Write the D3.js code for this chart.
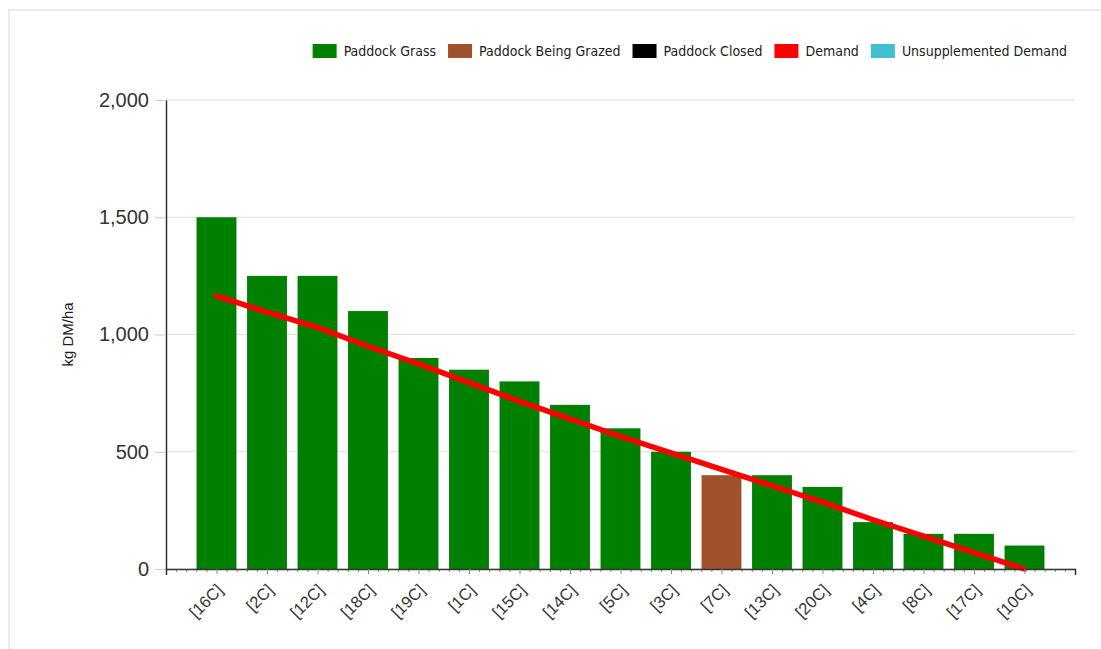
<!DOCTYPE html>
<html>
<head>
<meta charset="utf-8">
<script src="https://cdn.jsdelivr.net/npm/d3@7"></script>
<style>
  body { margin: 0; background: #ffffff; }
  svg { display: block; }
</style>
</head>
<body>
<div id="chart"></div>
<script>
// data
const paddocks = ['[16C]', '[2C]', '[12C]', '[18C]', '[19C]', '[1C]', '[15C]', '[14C]', '[5C]',
  '[3C]', '[7C]', '[13C]', '[20C]', '[4C]', '[8C]', '[17C]', '[10C]'];
const grass = [1500, 1250, 1250, 1100, 900, 850, 800, 700, 600, 500, 400, 400, 350, 200, 150, 150, 100];
const status = ['grass', 'grass', 'grass', 'grass', 'grass', 'grass', 'grass', 'grass', 'grass',
  'grass', 'grazed', 'grass', 'grass', 'grass', 'grass', 'grass', 'grass'];
const demand = [1165, 1095, 1030, 950, 875, 795, 715, 640, 565, 495, 425, 355, 285, 210, 140, 70, 0];
const yTicks = [0, 500, 1000, 1500, 2000];
const legends = [
  { text: 'Paddock Grass', fill: '#008000' },
  { text: 'Paddock Being Grazed', fill: '#a0522d' },
  { text: 'Paddock Closed', fill: '#000000' },
  { text: 'Demand', fill: '#ff0000' },
  { text: 'Unsupplemented Demand', fill: '#40c0cf' }
];
const statusColor = { grass: '#008000', grazed: '#a0522d', closed: '#000000' };

const W = 1101, H = 649;
const margin = { top: 100, right: 26, bottom: 80, left: 166 };
const plotW = W - margin.left - margin.right;
const plotH = H - margin.top - margin.bottom;

const svg = d3.select('#chart').append('svg')
  .attr('width', W)
  .attr('height', H);

// faint page frame
svg.append('path')
  .attr('d', `M9,${H} L9,10 L${W},10`)
  .attr('fill', 'none')
  .attr('stroke', '#ebebeb')
  .attr('stroke-width', 2);

const g = svg.append('g')
  .attr('transform', `translate(${margin.left},${margin.top})`);

const x = d3.scaleLinear().domain([-1, paddocks.length]).range([0, plotW]);
const y = d3.scaleLinear().domain([0, 2000]).range([plotH, 0]);
const step = x(1) - x(0);
const barW = step * 0.79;

// grid
g.append('g')
  .selectAll('line')
  .data(yTicks)
  .enter()
  .append('line')
  .attr('x1', 0)
  .attr('x2', plotW)
  .attr('y1', d => y(d))
  .attr('y2', d => y(d))
  .attr('stroke', '#e0e0e0')
  .attr('stroke-width', 1);

// bars
g.append('g')
  .selectAll('rect')
  .data(grass)
  .enter()
  .append('rect')
  .attr('x', (d, i) => x(i) - barW / 2)
  .attr('y', d => y(d))
  .attr('width', barW)
  .attr('height', d => y(0) - y(d))
  .attr('fill', (d, i) => statusColor[status[i]]);

// demand line
const line = d3.line()
  .x((d, i) => x(i))
  .y(d => y(d));
g.append('path')
  .datum(demand)
  .attr('d', line)
  .attr('fill', 'none')
  .attr('stroke', '#ff0000')
  .attr('stroke-width', 5.5)
  .attr('stroke-linecap', 'round');

// y axis
const yAxis = g.append('g')
  .call(d3.axisLeft(y).tickValues(yTicks).tickFormat(d3.format(',')).tickSize(11).tickSizeOuter(0).tickPadding(6));
yAxis.select('.domain').attr('stroke', '#333333').attr('stroke-width', 1.5);
yAxis.selectAll('.tick line').attr('stroke', '#cccccc');
yAxis.selectAll('.tick text')
  .style('font-family', '"Liberation Sans", Arial, sans-serif')
  .style('font-size', '20px')
  .attr('fill', '#333333');

// x axis, minor ticks
const minor = d3.range(-5, paddocks.length * 5 + 1).filter(k => k % 5 !== 0).map(k => k / 5);
const xMinor = g.append('g')
  .attr('transform', `translate(0,${plotH})`)
  .call(d3.axisBottom(x).tickValues(minor).tickFormat('').tickSize(3).tickSizeOuter(0));
xMinor.select('.domain').remove();
xMinor.selectAll('.tick line').attr('stroke', '#888888');

// x axis, major ticks + labels
const xAxis = g.append('g')
  .attr('transform', `translate(0,${plotH})`)
  .call(d3.axisBottom(x).tickValues(d3.range(paddocks.length)).tickFormat(i => paddocks[i]).tickSize(5).tickSizeOuter(6));
xAxis.select('.domain').attr('stroke', '#333333').attr('stroke-width', 1.5);
xAxis.selectAll('.tick line').attr('stroke', '#888888');
xAxis.selectAll('.tick text')
  .attr('x', 0)
  .attr('y', 0)
  .attr('dy', 0)
  .attr('transform', 'translate(7,22) rotate(-45)')
  .style('text-anchor', 'end')
  .style('font-family', '"Liberation Sans", Arial, sans-serif')
  .style('font-size', '16.5px')
  .attr('fill', '#333333');

// y label
svg.append('text')
  .attr('transform', `translate(73,${margin.top + plotH / 2}) rotate(-90)`)
  .attr('text-anchor', 'middle')
  .style('font-family', '"Liberation Sans", Arial, sans-serif')
  .style('font-size', '15px')
  .attr('fill', '#222222')
  .text('kg DM/ha');

// legend, laid out right to left from its right edge
const legendArea = svg.append('g');
const swW = 24, swH = 14, swGap = 7, itemGap = 12;
const items = legends.map(l => {
  const t = legendArea.append('text')
    .attr('y', 56)
    .style('font-family', '"DejaVu Sans Condensed", "DejaVu Sans", sans-serif')
    .style('font-stretch', 'condensed')
    .style('font-size', '14px')
    .attr('fill', '#222222')
    .text(l.text);
  return { legend: l, node: t, w: t.node().getComputedTextLength() };
});
let cursor = 1067;
for (let i = items.length - 1; i >= 0; i--) {
  const it = items[i];
  it.node.attr('x', cursor - it.w);
  legendArea.append('rect')
    .attr('x', cursor - it.w - swGap - swW)
    .attr('y', 44)
    .attr('width', swW)
    .attr('height', swH)
    .attr('fill', it.legend.fill);
  cursor = cursor - it.w - swGap - swW - itemGap;
}
</script>
</body>
</html>
